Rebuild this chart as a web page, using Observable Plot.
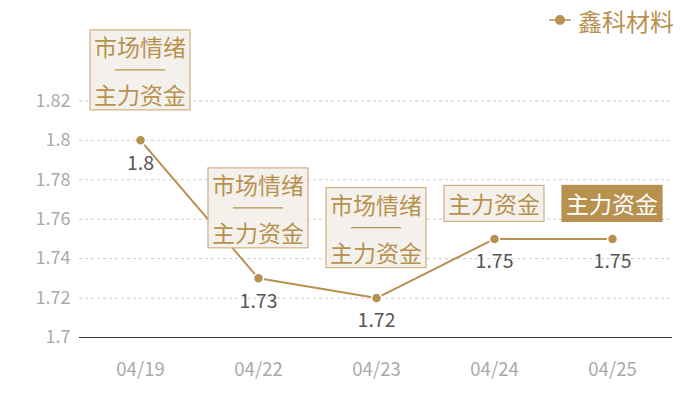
<!DOCTYPE html>
<html>
<head>
<meta charset="utf-8">
<script src="https://cdn.jsdelivr.net/npm/d3@7"></script>
<script src="https://cdn.jsdelivr.net/npm/@observablehq/plot@0.6"></script>
<style>
  html, body { margin: 0; padding: 0; background: #fff; }
  #chart svg { display: block; }
</style>
</head>
<body>
<div id="chart"></div>
<script>
const seriesName = "鑫科材料";
const dates = ["04/19", "04/22", "04/23", "04/24", "04/25"];
const values = [1.8, 1.73, 1.72, 1.75, 1.75];
const tags = [
  ["市场情绪", "主力资金"],
  ["市场情绪", "主力资金"],
  ["市场情绪", "主力资金"],
  ["主力资金"],
  ["主力资金"]
];
const yTicks = [1.7, 1.72, 1.74, 1.76, 1.78, 1.8, 1.82];

const GOLD = "#b8914f";
const FONT = "'Noto Sans CJK SC', 'Noto Sans', sans-serif";
const data = dates.map((d, i) => ({date: d, value: values[i], tag: tags[i], last: i === dates.length - 1}));

function tagBoxes(index, scales) {
  const g = d3.create("svg:g").attr("font-family", FONT).attr("text-anchor", "middle");
  const fs = 23, lh = 24, w = 100;
  data.forEach(d => {
    const cx = scales.x(d.date);
    const py = scales.y(d.value);
    const n = d.tag.length;
    const rows = n > 1 ? n * 2 - 1 : 1;
    const padV = n > 1 ? 4 : 6;
    const h = rows * lh + padV * 2;
    const gap = n > 1 ? 30 : 17;
    const top = py - gap - h;
    g.append("rect")
      .attr("x", cx - w / 2).attr("y", top)
      .attr("width", w).attr("height", h)
      .attr("fill", d.last ? GOLD : "#f4f1ec")
      .attr("stroke", d.last ? GOLD : "#cfb081")
      .attr("stroke-width", 1.2);
    const color = d.last ? "#ffffff" : GOLD;
    d.tag.forEach((t, j) => {
      const row = n > 1 ? j * 2 : 0;
      const cy = top + padV + row * lh + lh / 2;
      g.append("text")
        .attr("x", cx).attr("y", cy)
        .attr("dominant-baseline", "central")
        .attr("font-size", fs)
        .attr("fill", color)
        .text(t);
      if (j < n - 1) {
        const sy = top + padV + (row + 1) * lh + lh / 2;
        g.append("line")
          .attr("x1", cx - 25).attr("x2", cx + 25)
          .attr("y1", sy).attr("y2", sy)
          .attr("stroke", color).attr("stroke-width", 1.2);
      }
    });
  });
  return g.node();
}

function legend() {
  const g = d3.create("svg:g").attr("font-family", FONT).attr("text-anchor", "start");
  const x0 = 549, y0 = 20;
  g.append("line").attr("x1", x0).attr("x2", x0 + 22).attr("y1", y0).attr("y2", y0)
    .attr("stroke", GOLD).attr("stroke-width", 1.5);
  g.append("circle").attr("cx", x0 + 11).attr("cy", y0).attr("r", 5).attr("fill", GOLD);
  g.append("text").attr("x", x0 + 29).attr("y", y0)
    .attr("dominant-baseline", "central")
    .attr("font-size", 24).attr("fill", GOLD).text(seriesName);
  return g.node();
}

const chart = Plot.plot({
  width: 700,
  height: 400,
  marginLeft: 79,
  marginRight: 28,
  marginTop: 61,
  marginBottom: 63,
  style: {fontFamily: FONT, background: "#fff", overflow: "visible"},
  x: {type: "point", domain: dates, padding: 0.5, label: null},
  y: {domain: [1.7, 1.84], label: null},
  marks: [
    Plot.gridY(yTicks.slice(1), {stroke: "#cccccc", strokeOpacity: 1, strokeDasharray: "3,3"}),
    Plot.ruleY([1.7], {stroke: "#333333", strokeWidth: 1}),
    Plot.axisY({ticks: yTicks, tickSize: 0, tickPadding: 9, fontSize: 18, fill: "#aaaaaa", label: null, tickFormat: d => String(d)}),
    Plot.axisX({tickSize: 0, tickPadding: 25, fontSize: 18.5, fill: "#aaaaaa", label: null}),
    Plot.line(data, {x: "date", y: "value", stroke: GOLD, strokeWidth: 2}),
    Plot.dot(data, {x: "date", y: "value", r: 5, fill: GOLD, stroke: "#ffffff", strokeWidth: 1.5}),
    tagBoxes,
    Plot.text(data, {x: "date", y: "value", text: d => String(d.value), dy: 23, fill: "#555555", fontSize: 19.5}),
    legend
  ]
});
document.getElementById("chart").appendChild(chart);
</script>
</body>
</html>
